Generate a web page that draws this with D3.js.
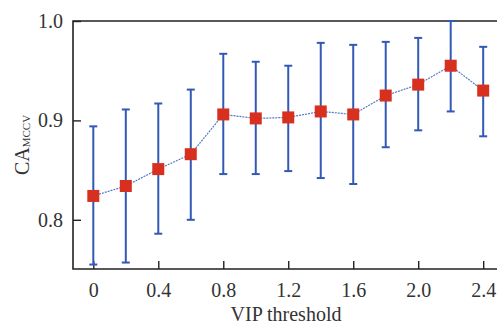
<!DOCTYPE html>
<html>
<head>
<meta charset="utf-8">
<script src="https://cdn.jsdelivr.net/npm/d3@7"></script>
<style>
  body { margin: 0; background: #fff; }
  text { font-family: "Liberation Serif", "DejaVu Serif", serif; fill: #333; }
</style>
</head>
<body>
<svg id="chart" width="497" height="326"></svg>
<script>
// values
const thresholds = [0, 0.2, 0.4, 0.6, 0.8, 1.0, 1.2, 1.4, 1.6, 1.8, 2.0, 2.2, 2.4]
const meanCA  = [0.824, 0.834, 0.851, 0.866, 0.906, 0.902, 0.903, 0.909, 0.906, 0.925, 0.936, 0.955, 0.930]
const upperCA = [0.894, 0.911, 0.917, 0.931, 0.967, 0.959, 0.955, 0.978, 0.976, 0.979, 0.983, 1.000, 0.974]
const lowerCA = [0.755, 0.757, 0.786, 0.800, 0.846, 0.846, 0.849, 0.842, 0.836, 0.873, 0.890, 0.909, 0.884]
const xTicks = [0, 0.4, 0.8, 1.2, 1.6, 2.0, 2.4]
const yTicks = [0.8, 0.9, 1.0]

const svg = d3.select("#chart")
const margin = { left: 73, top: 21, right: 0, bottom: 57 }
const width = +svg.attr("width"), height = +svg.attr("height")

const x = d3.scaleLinear().domain([-0.125, 2.485]).range([margin.left, width - margin.right])
const y = d3.scaleLinear().domain([0.7505, 1.0]).range([height - margin.bottom, margin.top])

const blue = "#3159b5", red = "#d8301e"

// frame: left, bottom and top lines (the right side is cut off)
const frame = svg.append("g").attr("stroke", "#222").attr("stroke-width", 1.6).attr("fill", "none")
frame.append("path").attr("d",
  "M" + (width) + "," + y(1.0) + "H" + x.range()[0] + "V" + y.range()[0] + "H" + width)

// axes with inward ticks
const xAxis = d3.axisBottom(x).tickValues(xTicks).tickSize(-8).tickPadding(14)
  .tickFormat(d => d === 0 ? "0" : d3.format(".1f")(d))
svg.append("g").attr("transform", "translate(0," + y.range()[0] + ")").call(xAxis)
  .call(g => g.select(".domain").remove())
  .call(g => g.selectAll("line").attr("stroke", "#222").attr("stroke-width", 1.4))
  .call(g => g.selectAll("text").attr("font-size", 20).attr("fill", "#333"))

const yAxis = d3.axisLeft(y).tickValues(yTicks).tickSize(-8).tickPadding(10).tickFormat(d3.format(".1f"))
svg.append("g").attr("transform", "translate(" + margin.left + ",0)").call(yAxis)
  .call(g => g.select(".domain").remove())
  .call(g => g.selectAll("line").attr("stroke", "#222").attr("stroke-width", 1.4))
  .call(g => g.selectAll("text").attr("font-size", 20).attr("fill", "#333"))

// axis titles
svg.append("text").attr("x", 286).attr("y", 321).attr("text-anchor", "middle")
  .attr("font-size", 20).text("VIP threshold")

const yl = svg.append("text").attr("transform", "translate(29,145) rotate(-90)")
  .attr("text-anchor", "middle").attr("font-size", 20)
yl.append("tspan").text("CA")
yl.append("tspan").attr("font-size", 11).attr("dy", 1).text("MCCV")

// data
const data = thresholds.map((t, i) => ({ t, m: meanCA[i], hi: upperCA[i], lo: lowerCA[i] }))

const bars = svg.append("g").attr("stroke", blue).attr("stroke-width", 2)
bars.selectAll(".v").data(data).join("line")
  .attr("x1", d => x(d.t)).attr("x2", d => x(d.t))
  .attr("y1", d => y(d.lo)).attr("y2", d => y(d.hi))
bars.selectAll(".capHi").data(data).join("line")
  .attr("x1", d => x(d.t) - 4).attr("x2", d => x(d.t) + 4)
  .attr("y1", d => y(d.hi)).attr("y2", d => y(d.hi))
bars.selectAll(".capLo").data(data).join("line")
  .attr("x1", d => x(d.t) - 4).attr("x2", d => x(d.t) + 4)
  .attr("y1", d => y(d.lo)).attr("y2", d => y(d.lo))

const line = d3.line().x(d => x(d.t)).y(d => y(d.m))
svg.append("path").datum(data).attr("d", line)
  .attr("fill", "none").attr("stroke", "#5577c4").attr("stroke-width", 1.2)
  .attr("stroke-dasharray", "2,1")

const s = 12
svg.append("g").selectAll("rect").data(data).join("rect")
  .attr("x", d => x(d.t) - s / 2).attr("y", d => y(d.m) - s / 2)
  .attr("width", s).attr("height", s).attr("fill", red)
</script>
</body>
</html>
